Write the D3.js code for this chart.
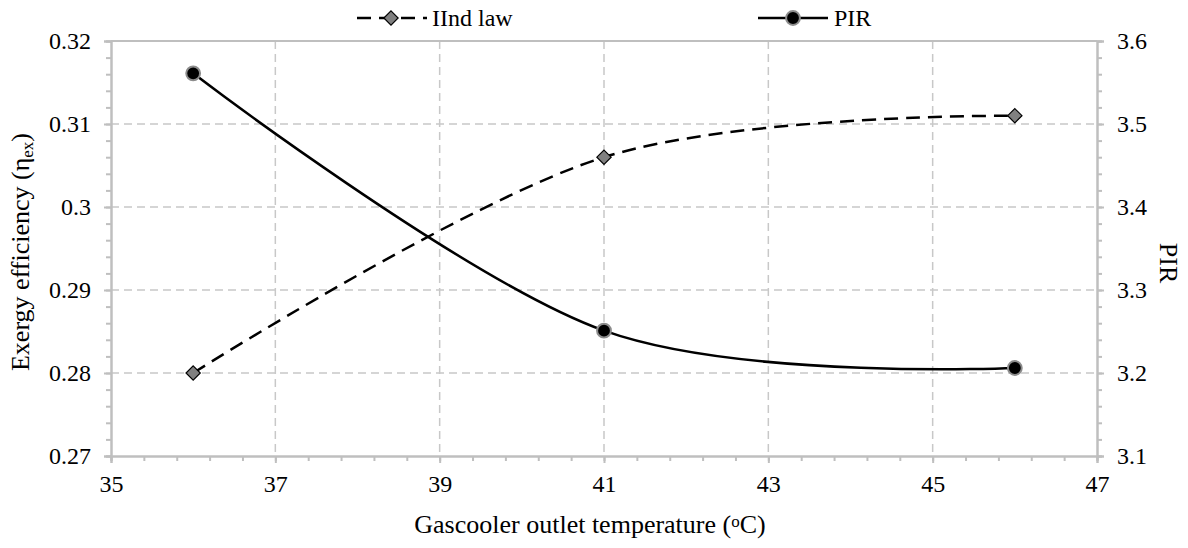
<!DOCTYPE html>
<html>
<head>
<meta charset="utf-8">
<script src="https://cdn.jsdelivr.net/npm/d3@7"></script>
</head>
<body style="margin:0; background:#fff">
<svg id="chart" width="1188" height="548"></svg>
<script>
var temps = [36, 41, 46];
var secondLaw = [0.280, 0.306, 0.311];
var pir = [3.561, 3.251, 3.206];
var xTicks = [35, 37, 39, 41, 43, 45, 47];
var leftTicks = [0.27, 0.28, 0.29, 0.3, 0.31, 0.32];
var rightTicks = [3.1, 3.2, 3.3, 3.4, 3.5, 3.6];

var width = 1188,
    height = 548,
    fontSize = 24,
    titleSize = 26,
    fontFamily = 'Liberation Serif',
    area = { x1: 111, y1: 41, x2: 1097, y2: 456 },
    axisColor = '#bfbfbf';

var svg = d3.select('#chart');

var x = d3.scaleLinear().domain([35, 47]).range([area.x1, area.x2]);
var yL = d3.scaleLinear().domain([0.27, 0.32]).range([area.y2, area.y1]);
var yR = d3.scaleLinear().domain([3.1, 3.6]).range([area.y2, area.y1]);

// gridlines
var grid = svg.append('g')
    .attr('stroke', '#c8c8c8')
    .attr('stroke-width', 1.5)
    .attr('stroke-dasharray', '8,5');
grid.selectAll('line.v').data(xTicks.slice(1, -1))
  .enter().append('line')
    .attr('x1', function(d) { return x(d); })
    .attr('x2', function(d) { return x(d); })
    .attr('y1', area.y1)
    .attr('y2', area.y2);
grid.selectAll('line.h').data(leftTicks.slice(1, -1))
  .enter().append('line')
    .attr('x1', area.x1)
    .attr('x2', area.x2)
    .attr('y1', function(d) { return yL(d); })
    .attr('y2', function(d) { return yL(d); });
svg.append('line')
    .attr('x1', area.x1).attr('x2', area.x2)
    .attr('y1', area.y1).attr('y2', area.y1)
    .attr('stroke', axisColor).attr('stroke-width', 2);

// axes
function styleAxis(g) {
  g.select('.domain').attr('stroke', axisColor).attr('stroke-width', 2);
  g.selectAll('.tick line').attr('stroke', axisColor).attr('stroke-width', 2);
  g.selectAll('.tick text').attr('fill', '#000');
}

function minorTicks(scale, step) {
  var d = scale.domain(), out = [];
  var n = Math.round((d[1] - d[0]) / step);
  for (var i = 0; i <= n; i++) out.push(d[0] + i * step);
  return out;
}

svg.append('g')
    .attr('transform', 'translate(0,' + area.y2 + ')')
    .call(d3.axisBottom(x).tickValues(minorTicks(x, 0.4)).tickSize(5).tickFormat(''))
    .call(styleAxis);
svg.append('g')
    .attr('transform', 'translate(0,' + area.y2 + ')')
    .call(d3.axisBottom(x).tickValues(xTicks).tickSize(7).tickPadding(12).tickFormat(d3.format('d')))
    .call(styleAxis);

svg.append('g')
    .attr('transform', 'translate(' + area.x1 + ',0)')
    .call(d3.axisLeft(yL).tickValues(minorTicks(yL, 0.002)).tickSize(5).tickFormat(''))
    .call(styleAxis);
svg.append('g')
    .attr('transform', 'translate(' + area.x1 + ',0)')
    .call(d3.axisLeft(yL).tickValues(leftTicks).tickSize(7).tickPadding(13)
      .tickFormat(function(d) { return d === 0.3 ? '0.3' : d3.format('.2f')(d); }))
    .call(styleAxis);

svg.append('g')
    .attr('transform', 'translate(' + area.x2 + ',0)')
    .call(d3.axisRight(yR).tickValues(minorTicks(yR, 0.02)).tickSize(5).tickFormat(''))
    .call(styleAxis);
svg.append('g')
    .attr('transform', 'translate(' + area.x2 + ',0)')
    .call(d3.axisRight(yR).tickValues(rightTicks).tickSize(7).tickPadding(13).tickFormat(d3.format('.1f')))
    .call(styleAxis);

// lines
var lawLine = d3.line()
    .x(function(d, i) { return x(temps[i]); })
    .y(function(d) { return yL(d); })
    .curve(d3.curveCardinal.tension(0));
var pirLine = d3.line()
    .x(function(d, i) { return x(temps[i]); })
    .y(function(d) { return yR(d); })
    .curve(d3.curveCardinal.tension(0));

svg.append('path')
    .datum(secondLaw)
    .attr('d', lawLine)
    .attr('fill', 'none')
    .attr('stroke', '#000')
    .attr('stroke-width', 2.5)
    .attr('stroke-dasharray', '14,8');
svg.append('path')
    .datum(pir)
    .attr('d', pirLine)
    .attr('fill', 'none')
    .attr('stroke', '#000')
    .attr('stroke-width', 2.5);

var diamond = d3.symbol().type(d3.symbolDiamond2).size(130);
var circle = d3.symbol().type(d3.symbolCircle).size(150);

svg.selectAll('path.law').data(secondLaw)
  .enter().append('path')
    .attr('class', 'law')
    .attr('d', diamond)
    .attr('transform', function(d, i) { return 'translate(' + x(temps[i]) + ',' + yL(d) + ')'; })
    .attr('fill', '#808080')
    .attr('stroke', '#000')
    .attr('stroke-width', 1.2);
svg.selectAll('path.pir').data(pir)
  .enter().append('path')
    .attr('class', 'pir')
    .attr('d', circle)
    .attr('transform', function(d, i) { return 'translate(' + x(temps[i]) + ',' + yR(d) + ')'; })
    .attr('fill', '#000')
    .attr('stroke', '#8c8c8c')
    .attr('stroke-width', 2);

// legend
var legend = svg.append('g').attr('transform', 'translate(0,18)');
legend.append('line')
    .attr('x1', 357).attr('x2', 427).attr('y1', 0).attr('y2', 0)
    .attr('stroke', '#000').attr('stroke-width', 2.5)
    .attr('stroke-dasharray', '14,8');
legend.append('path')
    .attr('d', diamond)
    .attr('transform', 'translate(391,0)')
    .attr('fill', '#808080').attr('stroke', '#000').attr('stroke-width', 1.2);
legend.append('text')
    .attr('x', 432).attr('y', 8)
    .text('IInd law');
legend.append('line')
    .attr('x1', 758).attr('x2', 828).attr('y1', 0).attr('y2', 0)
    .attr('stroke', '#000').attr('stroke-width', 2.5);
legend.append('path')
    .attr('d', circle)
    .attr('transform', 'translate(793,0)')
    .attr('fill', '#000').attr('stroke', '#8c8c8c').attr('stroke-width', 2);
legend.append('text')
    .attr('x', 834).attr('y', 8)
    .text('PIR');

// axis titles
var xTitle = svg.append('text')
    .attr('class', 'title')
    .attr('x', 590)
    .attr('y', 533)
    .attr('text-anchor', 'middle');
xTitle.append('tspan').text('Gascooler outlet temperature (');
xTitle.append('tspan').attr('class', 'small').attr('baseline-shift', '35%').text('o');
xTitle.append('tspan').text('C)');

var yTitle = svg.append('text')
    .attr('class', 'title')
    .attr('transform', 'translate(29,252) rotate(-90)')
    .attr('text-anchor', 'middle');
yTitle.append('tspan').text('Exergy efficiency (η');
yTitle.append('tspan').attr('class', 'small').attr('baseline-shift', '-25%').text('ex');
yTitle.append('tspan').text(')');

svg.append('text')
    .attr('class', 'title')
    .attr('transform', 'translate(1160,263) rotate(90)')
    .attr('text-anchor', 'middle')
    .text('PIR');

// font on every text
svg.selectAll('text')
    .attr('font-family', fontFamily)
    .attr('font-size', fontSize)
    .style('font-family', fontFamily)
    .style('font-size', fontSize + 'px');
svg.selectAll('text.title')
    .attr('font-size', titleSize)
    .style('font-size', titleSize + 'px');
svg.selectAll('tspan.small')
    .style('font-size', '17px');
</script>
</body>
</html>
